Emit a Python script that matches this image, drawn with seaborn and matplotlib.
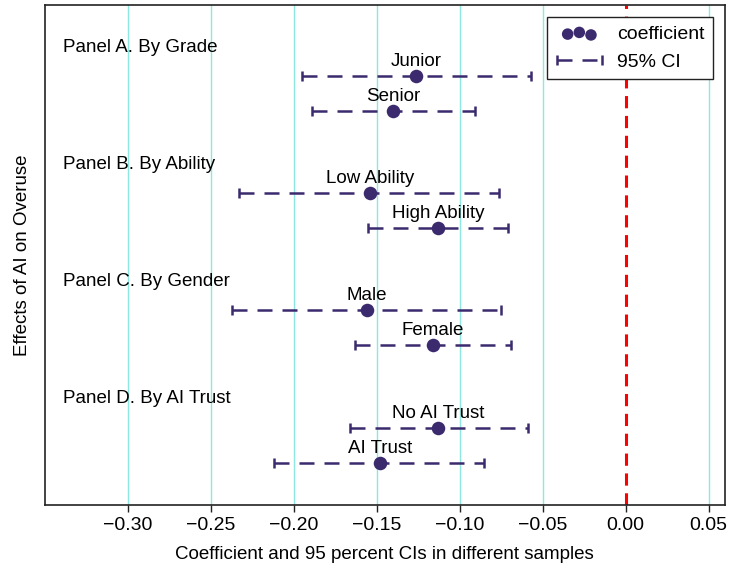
import matplotlib
matplotlib.use("Agg")
import matplotlib.pyplot as plt
from matplotlib.legend_handler import HandlerPathCollection, HandlerErrorbar
import seaborn as sns
import pandas as pd

# Data
panels = ['Panel A. By Grade', 'Panel B. By Ability', 'Panel C. By Gender', 'Panel D. By AI Trust']
groups = ['Junior', 'Senior', 'Low Ability', 'High Ability', 'Male', 'Female', 'No AI Trust', 'AI Trust']
coef = [-0.126, -0.140, -0.154, -0.113, -0.156, -0.116, -0.113, -0.148]
ci_low = [-0.195, -0.189, -0.233, -0.155, -0.237, -0.163, -0.166, -0.212]
ci_high = [-0.057, -0.091, -0.076, -0.071, -0.075, -0.069, -0.059, -0.085]

# row positions: two rows per panel, panels spaced a bit wider
ypos = [(i // 2) * 3.35 + (i % 2) for i in range(len(groups))]

df = pd.DataFrame({'group': groups, 'coef': coef, 'lo': ci_low, 'hi': ci_high, 'y': ypos})

sns.set_style("white")
plt.rcParams['font.family'] = ['Liberation Sans', 'DejaVu Sans']
plt.rcParams['text.color'] = 'black'
plt.rcParams['axes.labelcolor'] = 'black'
plt.rcParams['xtick.color'] = 'black'

purple = '#3b2a6e'

fig = plt.figure(figsize=(7.31, 5.75), dpi=100)
ax = fig.add_axes([0.061, 0.122, 0.931, 0.869])

# vertical grid
for t in [-0.30, -0.25, -0.20, -0.15, -0.10, -0.05, 0.05]:
    ax.axvline(t, color='#8de8e0', lw=1.0, zorder=0)
ax.axvline(0, color='red', lw=2.2, ls=(0, (4, 2.5)), zorder=1)

# confidence intervals
eb = ax.errorbar(df['coef'], df['y'],
                 xerr=[df['coef'] - df['lo'], df['hi'] - df['coef']],
                 fmt='none', ecolor=purple, elinewidth=1.8, capsize=3.5,
                 capthick=1.8, label='95% CI', zorder=2)
eb[-1][0].set_linestyle((0, (6, 4)))

# coefficients
sns.scatterplot(data=df, x='coef', y='y', color=purple, s=95, edgecolor=purple,
                linewidth=0, ax=ax, label='coefficient', zorder=3)

for _, r in df.iterrows():
    ax.text(r['coef'], r['y'] - 0.17, r['group'], ha='center', va='bottom', fontsize=13.5)

for k, p in enumerate(panels):
    ax.text(-0.339, k * 3.35 - 0.83, p, ha='left', va='center', fontsize=13.5)

ax.set_xlim(-0.35, 0.06)
ax.set_ylim(12.26, -2.03)
ax.set_yticks([])
ax.set_xticks([-0.30, -0.25, -0.20, -0.15, -0.10, -0.05, 0.00, 0.05])
ax.set_xticklabels(['\u22120.30', '\u22120.25', '\u22120.20', '\u22120.15', '\u22120.10',
                    '\u22120.05', '0.00', '0.05'])
ax.tick_params(axis='x', direction='out', length=5, width=1, labelsize=14, bottom=True, color='#222222')
ax.set_xlabel('Coefficient and 95 percent CIs in different samples', fontsize=13.5, labelpad=9)
ax.set_ylabel('Effects of AI on Overuse', fontsize=13.5, labelpad=10)
for s in ax.spines.values():
    s.set_color('#222222')
    s.set_linewidth(1.2)

handles, labels = ax.get_legend_handles_labels()
order = [labels.index('coefficient'), labels.index('95% CI')]
leg = ax.legend([handles[i] for i in order], [labels[i] for i in order],
                loc='upper right', fontsize=14, scatterpoints=3, markerscale=0.85,
                handlelength=2.4, handletextpad=0.75, borderpad=0.45, fancybox=False,
                framealpha=1, edgecolor='#222222', borderaxespad=0.6,
                handler_map={handles[order[0]]: HandlerPathCollection(marker_pad=0.6),
                             handles[order[1]]: HandlerErrorbar(xerr_size=1.15)})
leg.get_frame().set_linewidth(1.0)

fig.savefig('out.png', dpi=100)
